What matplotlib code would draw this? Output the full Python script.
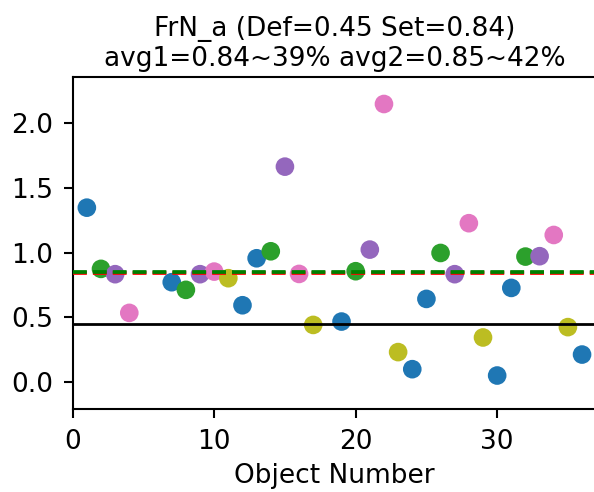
import matplotlib
matplotlib.use("Agg")
import matplotlib.pyplot as plt

objects = [1, 2, 3, 4, 7, 8, 9, 10, 11, 12, 13, 14, 15, 16, 17,
           19, 20, 21, 22, 23, 24, 25, 26, 27, 28, 29, 30, 31, 32, 33, 34, 35, 36]
values = [1.348, 0.875, 0.834, 0.535, 0.772, 0.713, 0.834, 0.854, 0.803, 0.594,
          0.957, 1.011, 1.665, 0.836, 0.442,
          0.468, 0.857, 1.024, 2.149, 0.232, 0.100, 0.643, 0.998, 0.834, 1.228,
          0.345, 0.051, 0.728, 0.970, 0.973, 1.137, 0.425, 0.213]
colors = ['tab:blue', 'tab:green', 'tab:purple', 'tab:pink', 'tab:blue', 'tab:green',
          'tab:purple', 'tab:pink', 'tab:olive', 'tab:blue', 'tab:blue', 'tab:green',
          'tab:purple', 'tab:pink', 'tab:olive',
          'tab:blue', 'tab:green', 'tab:purple', 'tab:pink', 'tab:olive', 'tab:blue',
          'tab:blue', 'tab:green', 'tab:purple', 'tab:pink', 'tab:olive', 'tab:blue',
          'tab:blue', 'tab:green', 'tab:purple', 'tab:pink', 'tab:olive', 'tab:blue']
default_val = 0.45
set_val = 0.84
avg1 = 0.84
avg2 = 0.85
title = "FrN_a (Def=0.45 Set=0.84)\navg1=0.84~39% avg2=0.85~42%"

fs = 19
fig = plt.figure(figsize=(5.94, 4.92), dpi=100)
W, H = 594, 492
left, right, top, bottom = 72.7, 596.2, 76.7, 409.3
ax = fig.add_axes([left / W, 1 - bottom / H, (right - left) / W, (bottom - top) / H])

ax.scatter(objects, values, c=colors, s=180, zorder=2, linewidths=0)
ax.axhline(default_val, color='black', lw=2.0, zorder=3)
ax.axhline(avg1, color='red', lw=2.7, ls='--', zorder=3)
ax.axhline(avg2, color='green', lw=2.7, ls='--', zorder=3)

ax.set_xlim(0, 37)
ax.set_ylim(-0.21, 2.36)
ax.set_xticks([0, 10, 20, 30])
ax.set_yticks([0.0, 0.5, 1.0, 1.5, 2.0])
ax.set_yticklabels(['0.0', '0.5', '1.0', '1.5', '2.0'])
ax.tick_params(labelsize=fs, width=1.5, length=6.5, pad=7.5)
for sp in ax.spines.values():
    sp.set_linewidth(1.5)
ax.set_xlabel("Object Number", fontsize=fs, labelpad=6)
ax.set_title(title, fontsize=fs, pad=8)

fig.savefig("out.png", dpi=100)
